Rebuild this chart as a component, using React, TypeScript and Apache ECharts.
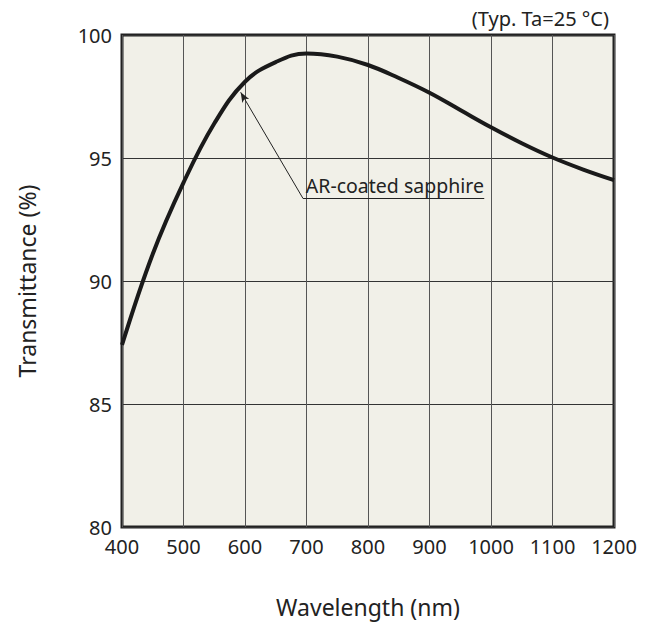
import React, { useEffect, useRef } from "react";
import * as echarts from "echarts";

const wavelengths = [400, 450, 500, 550, 600, 650, 700, 750, 800, 850, 900, 950, 1000, 1050, 1100, 1150, 1200];
const transmittance = [87.4, 91.1, 94.0, 96.4, 98.1, 98.9, 99.25, 99.12, 98.78, 98.25, 97.65, 96.95, 96.25, 95.6, 95.02, 94.53, 94.1];
const annotationTip = [593, 97.67];
const annotationTail = [694, 93.37];
const annotationEnd = [989, 93.37];
const annotationText = "AR-coated sapphire";
const titleText = "(Typ. Ta=25 °C)";
const xName = "Wavelength (nm)";
const yName = "Transmittance (%)";

const FONT = "'Noto Sans', 'DejaVu Sans', sans-serif";

export default function App() {
  const ref = useRef<HTMLDivElement>(null);
  useEffect(() => {
    if (!ref.current) return;
    const chart = echarts.init(ref.current, null, { renderer: "svg" });
    const data = wavelengths.map((w, i) => [w, transmittance[i]]);
    chart.setOption({
      animation: false,
      backgroundColor: "#ffffff",
      textStyle: { fontFamily: FONT },
      title: {
        text: titleText,
        right: 37,
        top: 3,
        textStyle: { fontFamily: FONT, fontSize: 20, fontWeight: "normal", color: "#222" },
      },
      grid: {
        left: 122,
        right: 37,
        top: 35,
        bottom: 99,
        show: true,
        backgroundColor: "#f1f0e8",
        borderColor: "#222",
        borderWidth: 3,
      },
      xAxis: {
        type: "value",
        min: 400,
        max: 1200,
        interval: 100,
        name: xName,
        nameLocation: "middle",
        nameGap: 68,
        nameTextStyle: { fontFamily: FONT, fontSize: 23, color: "#222" },
        axisLine: { show: false },
        axisTick: { show: false },
        axisLabel: {
          fontFamily: FONT,
          fontSize: 20,
          color: "#222",
          margin: 9,
          formatter: (v: number) => String(v),
        },
        splitLine: { show: true, lineStyle: { color: "#555", width: 1 } },
      },
      yAxis: {
        type: "value",
        min: 80,
        max: 100,
        interval: 5,
        name: yName,
        nameLocation: "middle",
        nameGap: 84,
        nameTextStyle: { fontFamily: FONT, fontSize: 23, color: "#222" },
        axisLine: { show: false },
        axisTick: { show: false },
        axisLabel: {
          fontFamily: FONT,
          fontSize: 20,
          color: "#222",
          margin: 10,
          formatter: (v: number) => String(v),
        },
        splitLine: { show: true, lineStyle: { color: "#333", width: 1 } },
      },
      series: [
        {
          type: "line",
          data,
          smooth: 0.4,
          showSymbol: false,
          lineStyle: { color: "#1a1a1a", width: 4 },
          z: 5,
          markLine: {
            silent: true,
            animation: false,
            lineStyle: { color: "#222", width: 1, type: "solid" },
            data: [
              [
                { coord: annotationTail, symbol: "none" },
                { coord: annotationTip, symbol: "arrow", symbolSize: [6, 10] },
              ],
              [
                {
                  coord: annotationTail,
                  symbol: "none",
                  label: {
                    show: true,
                    position: "insideStartTop",
                    formatter: annotationText,
                    fontFamily: FONT,
                    fontSize: 19.5,
                    color: "#222",
                    distance: 3,
                  },
                },
                { coord: annotationEnd, symbol: "none" },
              ],
            ],
            label: { show: false },
          },
        },
      ],
    });
    return () => chart.dispose();
  }, []);
  return (
    <div
      ref={ref}
      style={{ position: "fixed", left: 0, top: 0, width: 651, height: 626 }}
    />
  );
}
